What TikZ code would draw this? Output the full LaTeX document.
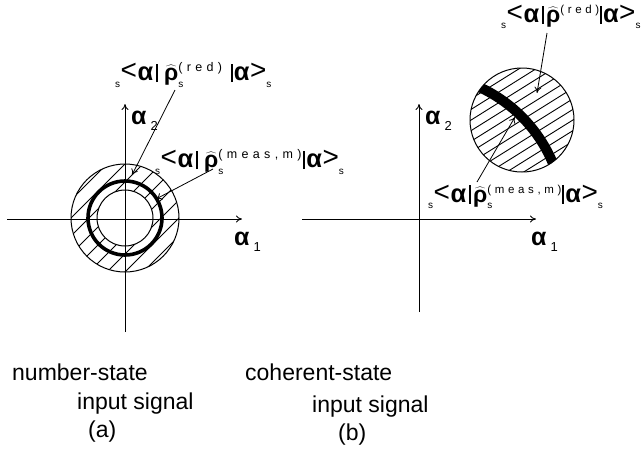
\documentclass[tikz,border=0pt]{standalone}
\usepackage{fontspec}
\setmainfont{Liberation Sans}
\usetikzlibrary{arrows.meta,calc}
\newcommand\smallfs[1]{{\fontsize{10}{10}\selectfont\mdseries #1}}
\newcommand\supA[1]{{\fontsize{12.5}{12.5}\selectfont\mdseries\addfontfeatures{LetterSpace=35}#1}}
\newcommand\supB[1]{{\fontsize{11.5}{11.5}\selectfont\mdseries\addfontfeatures{LetterSpace=32}#1}}
\newcommand\angL{\raisebox{0.1ex}{\fontsize{28}{28}\selectfont <}}
\newcommand\angR{\raisebox{0.1ex}{\fontsize{28}{28}\selectfont >}}
\newcommand\vbar{\rule[-0.1ex]{2.3pt}{0.8em}}
\newcommand\bal{{\fontsize{25.5}{25.5}\selectfont\bfseries α}}
% #1 superscript, #2 subscript under rho, #3 gap after first bar, #4 gap before second bar
\newcommand\brk[4]{\raisebox{-0.5ex}{\smallfs{s}}\kern0.5pt\angL\kern0.5pt\bal\kern2.5pt\vbar\kern#3$\widehat{\mbox{\textbf{ρ}}}^{\mbox{#1}}_{\mbox{\smallfs{#2}}}$\kern#4\vbar\kern1pt\bal\kern0.5pt\angR\raisebox{-0.5ex}{\smallfs{s}}}
\newcommand\axl[1]{\textbf{α}\kern4pt\raisebox{-0.45ex}{\fontsize{13}{13}\selectfont #1}}
\begin{document}
\begin{tikzpicture}[x=1pt,y=-1pt,
  >={To[length=6pt,width=7pt]},
  ax/.style={line width=0.9pt,->},
  hatch/.style={line width=0.9pt},
  lead/.style={line width=0.8pt,->},
  lbl/.style={font=\fontsize{23}{23}\selectfont, inner sep=0pt, anchor=west},
  axlab/.style={font=\fontsize{25}{25}\selectfont, inner sep=0pt, anchor=west},
  captext/.style={font=\fontsize{23}{23}\selectfont, inner sep=0pt, anchor=base west}]
\useasboundingbox (0,0) rectangle (644,448);
% ---------------- panel (a) ----------------
\coordinate (ca) at (125,218);
\begin{scope}
  \clip (ca) circle (54);
  \foreach \i in {-7,...,7}
    \draw[hatch] ($(ca)+(\i*18,0)+(-70,70)$) -- ++(140,-140);
\end{scope}
\fill[white] (ca) circle (28);
\draw[line width=1pt] (ca) circle (54);
\draw[line width=3.6pt] (ca) circle (37);
\draw[line width=1pt] (ca) circle (28);
\coordinate (aL) at (7,219);
\coordinate (aR) at (242,219);
\coordinate (aB) at (125,332);
\coordinate (aT) at (125,104);
\draw[ax] (aL) -- (aR);
\draw[ax] (aB) -- (aT);
\node[axlab] (a1) at (234,242) {\axl{1}};
\node[axlab] (a2) at (131,121) {\axl{2}};
\node[lbl] (redA) at (115,75) {\brk{\supA{(red)}}{s}{6pt}{8pt}};
\node[lbl] (measA) at (155,162) {\brk{\supA{(meas,m)}}{s}{6pt}{1pt}};
\coordinate (redAs) at (175,90);
\coordinate (redAe) at (132,175);
\coordinate (measAs) at (213,169);
\coordinate (measAe) at (156,199);
\draw[lead] (redAs) -- (redAe);
\draw[lead] (measAs) -- (measAe);
% ---------------- panel (b) ----------------
\coordinate (cb) at (522,120);
\coordinate (ob) at (419,219);
\begin{scope}
  \clip (cb) circle (52);
  \foreach \i in {-8,...,8}
    \draw[hatch] ($(cb)+(\i*4.77,\i*7.63)+(-67.8,42.4)$) -- ++(135.6,-84.8);
  \draw[line width=10pt] (ob) ++(-85:145) arc[start angle=-85,end angle=-5,radius=145];
\end{scope}
\draw[line width=1pt] (cb) circle (52);
\coordinate (bL) at (302,219);
\coordinate (bR) at (536,219);
\coordinate (bB) at (419,312);
\coordinate (bT) at (419,104);
\draw[ax] (bL) -- (bR);
\draw[ax] (bB) -- (bT);
\node[axlab] (b1) at (531,242) {\axl{1}};
\node[axlab] (b2) at (425,121) {\axl{2}};
\node[lbl] (redB) at (501,17) {\brk{\supB{(red)}}{}{2pt}{0pt}};
\node[lbl] (measB) at (428,197) {\brk{\supB{(meas,m)}}{s}{2pt}{0pt}};
\coordinate (redBs) at (547,33);
\coordinate (redBe) at (537,93);
\coordinate (measBs) at (477,182);
\coordinate (measBe) at (515,117);
\draw[lead] (redBs) -- (redBe);
\draw[lead] (measBs) -- (measBe);
% ---------------- captions ----------------
\node[captext] (c1) at (12,380) {number-state};
\node[captext] (c2) at (77,409) {input signal};
\node[captext] (c3) at (88,437) {(a)};
\node[captext] (c4) at (245,380) {coherent-state};
\node[captext] (c5) at (312,412) {input signal};
\node[captext] (c6) at (338,440) {(b)};
\end{tikzpicture}
\end{document}
